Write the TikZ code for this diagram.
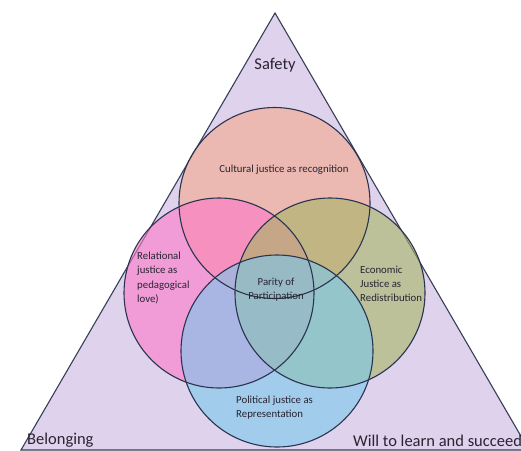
\documentclass[tikz,border=0pt]{standalone}
\usepackage{fontspec}
\setmainfont{Carlito}
\definecolor{triback}{RGB}{223,210,236}
\definecolor{edgeline}{RGB}{42,52,80}
\definecolor{culturalfill}{RGB}{246,168,140}
\definecolor{relationalfill}{RGB}{253,120,200}
\definecolor{economicfill}{RGB}{165,182,100}
\definecolor{politicalfill}{RGB}{122,200,236}
\definecolor{inktext}{RGB}{40,36,50}
\tikzset{
  tri/.style={draw=edgeline!85!gray, line width=1.1pt, fill=triback},
  ring/.style={draw=edgeline, line width=1.1pt},
  wash/.style={fill opacity=0.6},
  corner/.style={font=\fontsize{16.5}{18}\selectfont, text=inktext, inner sep=0pt},
  inner/.style={font=\fontsize{10.8}{14.2}\selectfont, text=inktext, inner sep=0pt, align=left}
}
\begin{document}
\begin{tikzpicture}[x=1pt,y=-1pt]
   \useasboundingbox (0,0) rectangle (521,450);
   \clip (0,0) rectangle (521,450);
   \fill[white] (0,0) rectangle (521,450);
   \draw[tri] (275,13) -- (21,450) -- (529,450) -- cycle;
   % centres of the four circles
   \coordinate (cultural) at (274.5,203);
   \coordinate (relational) at (219,293);
   \coordinate (economic) at (330,293);
   \coordinate (political) at (277,351);
   \fill[culturalfill, wash] (cultural) circle (95.5);
   \fill[relationalfill, wash] (relational) circle (95);
   \fill[economicfill, wash] (economic) circle (95);
   \fill[politicalfill, wash] (political) circle (96);
   \foreach \c/\r in {cultural/95.5, relational/95, economic/95, political/96}
     \draw[ring] (\c) circle (\r);
   % labels
   \node[corner] (safety) at (275,65) {Safety};
   \node[corner, anchor=west] (belonging) at (27,440) {Belonging};
   \node[corner, anchor=west] (will) at (353,441) {Will to learn and succeed};
   \node[inner] (culturaltext) at (284,170) {Cultural justice as recognition};
   \node[inner, anchor=west] (relationaltext) at (137,278) {Relational\\justice as\\pedagogical\\love)};
   \node[inner, align=center] (parity) at (276,290) {Parity of\\Participation};
   \node[inner, anchor=west] (economictext) at (360,284) {Economic\\Justice as\\Redistribution};
   \node[inner, anchor=west] (politicaltext) at (236,408) {Political justice as\\Representation};
\end{tikzpicture}
\end{document}
